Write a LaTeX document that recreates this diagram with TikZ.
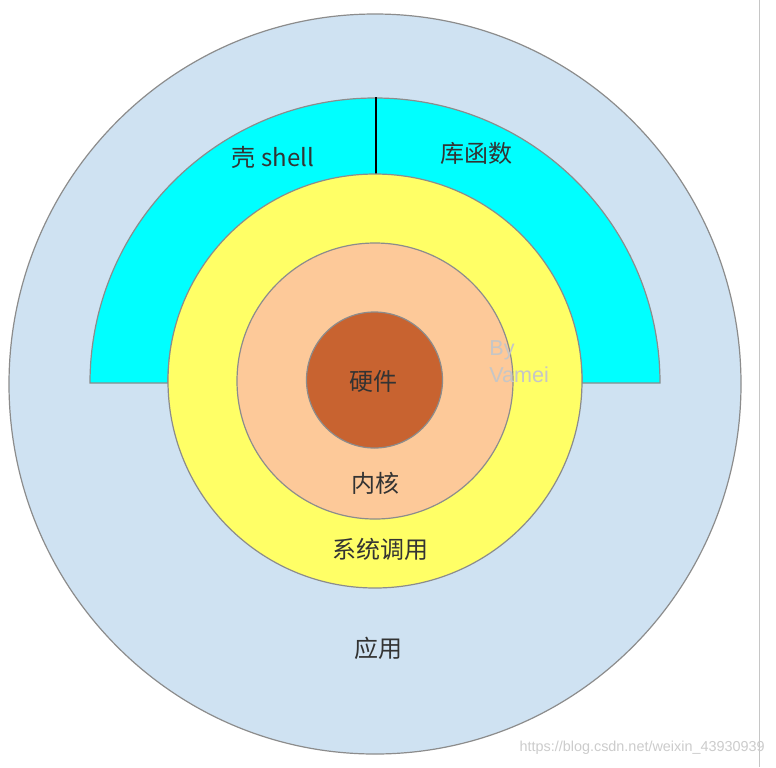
\documentclass[tikz,border=0pt]{standalone}
\usepackage{fontspec}
\setmainfont{Liberation Sans}
\newfontfamily\cjk{Noto Sans CJK SC}
\usetikzlibrary{shapes.geometric}
\begin{document}
\begin{tikzpicture}[x=0.5pt, y=-0.5pt]
            \definecolor{app_color}{RGB}{207,226,242}
            \definecolor{shell_color}{RGB}{0,255,255}
            \definecolor{sys_color}{RGB}{255,255,102}
            \definecolor{kern_color}{RGB}{253,201,153}
            \definecolor{hw_color}{RGB}{200,99,48}
            \definecolor{rim_color}{RGB}{140,140,140}
            \definecolor{txt_color}{RGB}{51,51,51}
            \tikzstyle{disc} = [draw=rim_color, line width=0.6pt, circle, inner sep=0]
            \tikzstyle{lbl} = [text=txt_color, font=\cjk\fontsize{12pt}{14pt}\selectfont]
            \useasboundingbox (0,0) rectangle (776,767);
            \fill[white] (0,0) rectangle (776,767);
            \coordinate (etop) at (759,0);
            \coordinate (ebot) at (759,767);
            \draw[gray!45, line width=0.4pt] (etop) -- (ebot);
            \node[disc, ellipse, fill=app_color, minimum width=366pt, minimum height=370pt] (app) at (375,384) {};
            \draw[draw=rim_color, line width=0.6pt, fill=shell_color] (90,383) arc[start angle=180, end angle=360, radius=285] -- (582,383) arc[start angle=0, end angle=-180, radius=207] -- cycle;
            \coordinate (divtop) at (376,97);
            \coordinate (divbot) at (376,176);
            \draw[black, line width=0.6pt] (divtop) -- (divbot);
            \node[disc, fill=sys_color, minimum size=207pt] (sys) at (375,381) {};
            \node[disc, fill=kern_color, minimum size=138pt] (kern) at (375,381) {};
            \node[disc, fill=hw_color, minimum size=68pt] (hw) at (374.5,380) {};
            \node[lbl] (shell) at (273,157) {壳 shell};
            \node[lbl] (lib) at (476,153) {库函数};
            \node[lbl] (hwtxt) at (373,381) {硬件};
            \node[lbl] (kerntxt) at (375,483) {内核};
            \node[lbl] (systxt) at (380,549) {系统调用};
            \node[lbl] (apptxt) at (378,648) {应用};
            \node[text=gray!45, font=\fontsize{10.8pt}{13.5pt}\selectfont, align=left, anchor=north west, inner sep=0] (sign) at (489,340) {By\\Vamei};
            \node[text=gray!40, font=\fontsize{7.2pt}{8pt}\selectfont, anchor=east, inner sep=0] (mark) at (765,748) {https://blog.csdn.net/weixin\_43930939};
        \end{tikzpicture}
\end{document}
